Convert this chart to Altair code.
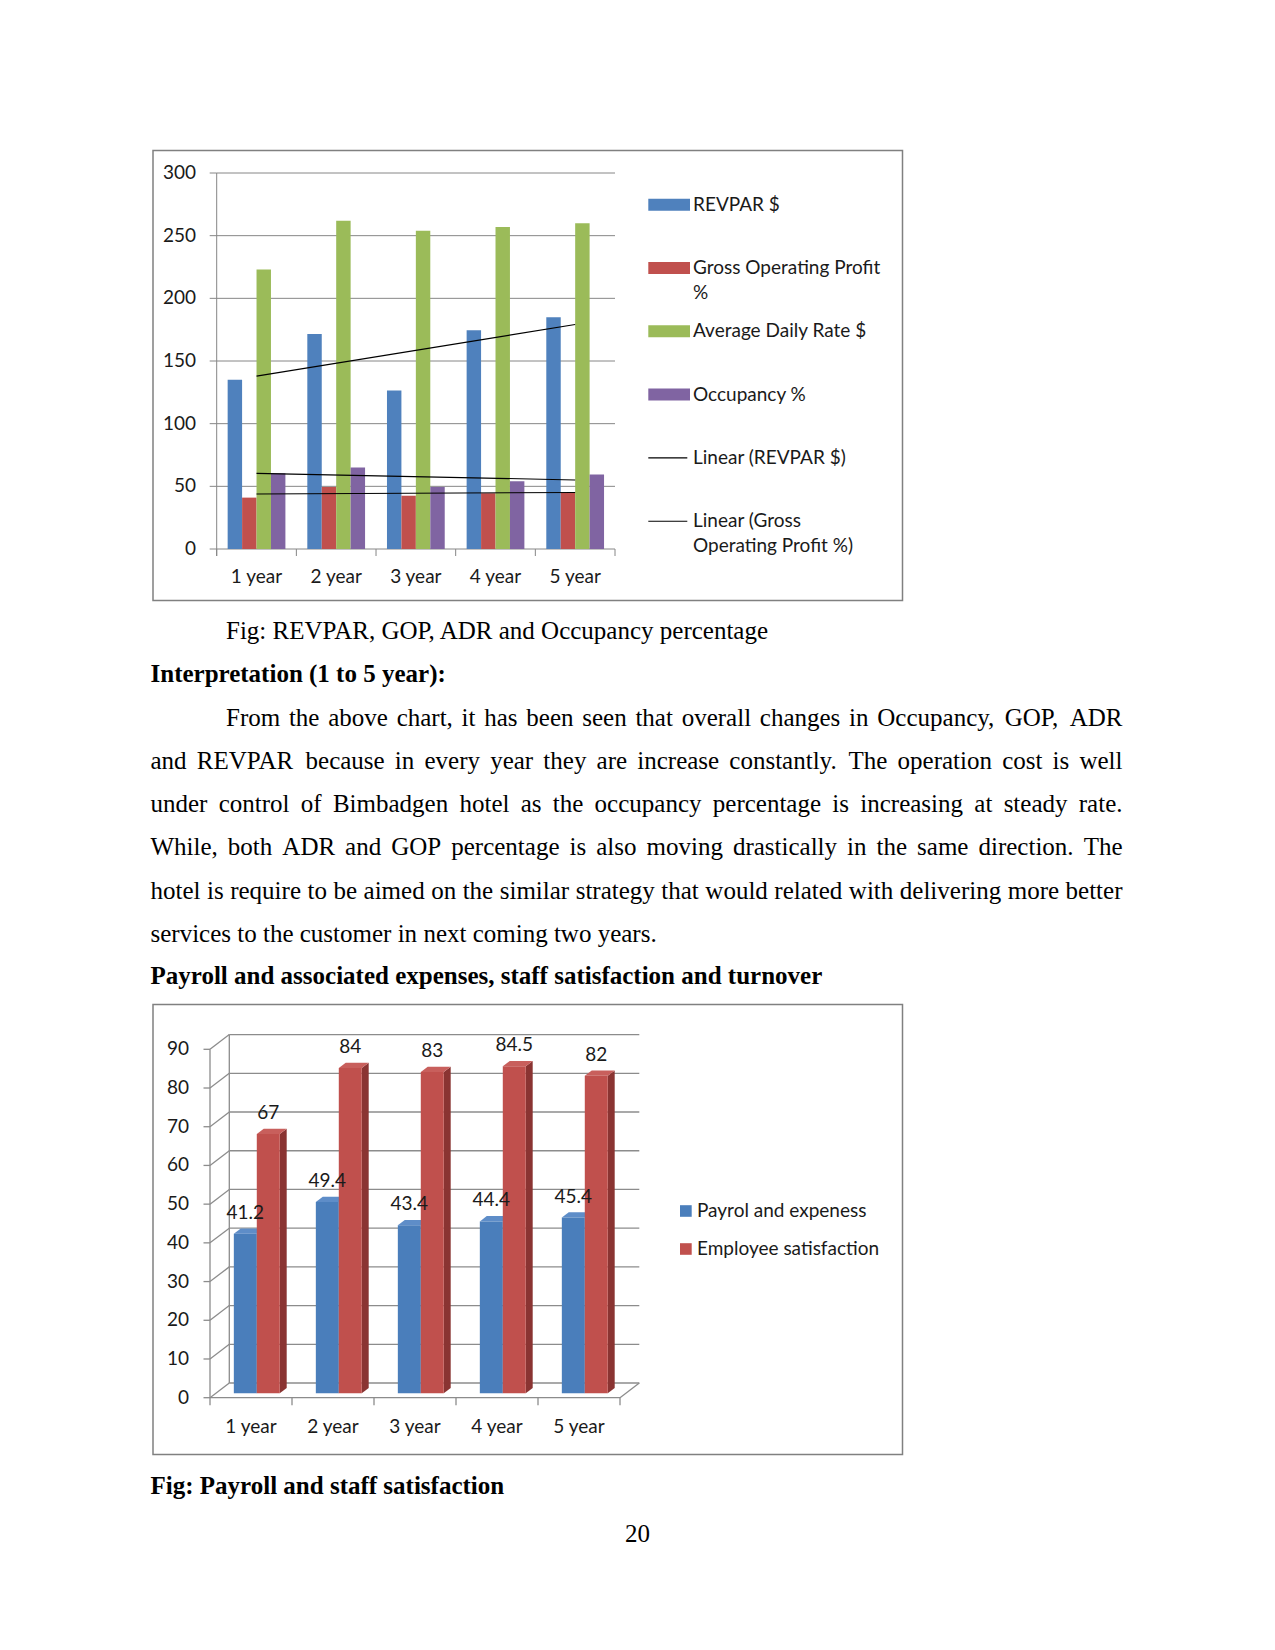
import altair as alt
import pandas as pd

# ---------------- data ----------------
YEARS = ["1 year", "2 year", "3 year", "4 year", "5 year"]
SERIES1 = ["REVPAR $", "Gross Operating Profit %", "Average Daily Rate $", "Occupancy %"]
REVPAR = [135, 171.5, 126.5, 174.5, 185]
GOP = [41, 49.5, 42.5, 44.5, 45]
ADR = [223, 262, 254, 257, 260]
OCC = [60.5, 65, 49.5, 54, 59.5]
C1_COLORS = ["#4F81BD", "#C0504D", "#9BBB59", "#8064A2"]
C1_TICKS = [0, 50, 100, 150, 200, 250, 300]
TREND_SERIES = ["REVPAR $", "Gross Operating Profit %", "Occupancy %"]
LEGEND1_LINES = [["REVPAR $"], ["Gross Operating Profit", "%"], ["Average Daily Rate $"],
                 ["Occupancy %"], ["Linear (REVPAR $)"], ["Linear (Gross", "Operating Profit %)"]]
LEGEND1_KIND = ["bar", "bar", "bar", "bar", "line", "line"]
LEGEND1_COLOR = ["#4F81BD", "#C0504D", "#9BBB59", "#8064A2", "#000000", "#000000"]

SERIES2 = ["Payrol and expeness", "Employee satisfaction"]
PAYROLL = [41.2, 49.4, 43.4, 44.4, 45.4]
SATISF = [67, 84, 83, 84.5, 82]
C2_TICKS = [0, 10, 20, 30, 40, 50, 60, 70, 80, 90]
C2_FRONT = ["#4A7EBB", "#C0504D"]
C2_SIDE = ["#375D8B", "#8A3432"]
C2_TOP = ["#5E8DC8", "#C85F5C"]

CAPTION1 = "Fig: REVPAR, GOP, ADR and Occupancy percentage"
HEAD1 = "Interpretation (1 to 5 year):"
PARA = [
    "From the above chart, it has been seen that overall changes in Occupancy, GOP, ADR",
    "and REVPAR because in every year they are increase constantly. The operation cost is well",
    "under control of Bimbadgen hotel as the occupancy percentage is increasing at steady rate.",
    "While, both ADR and GOP percentage is also moving drastically in the same direction. The",
    "hotel is require to be aimed on the similar strategy that would related with delivering more better",
    "services to the customer in next coming two years.",
]
HEAD2 = "Payroll and associated expenses, staff satisfaction and turnover"
CAPTION2 = "Fig: Payroll and staff satisfaction"
PAGE_NO = "20"

# ---------------- style / layout ----------------
SANS = "Lato"
SERIF = "Liberation Serif"
FS_CHART = 19
FS_TEXT = 25
GRID = "#868686"
FRAME = "#808080"
TXT = "#1a1a1a"

# chart 1 geometry
C1_XR = [216.7, 615.0]
C1_YR = [549.0, 173.0]
step1 = (C1_XR[1] - C1_XR[0]) / len(YEARS)
C1_CENTERS = [C1_XR[0] + step1 * 0.5, C1_XR[0] + step1 * 4.5]

xs1 = alt.Scale(domain=YEARS, range=C1_XR, paddingInner=0.275, paddingOuter=0.1375)
ys1 = alt.Scale(domain=[0, 300], range=C1_YR, nice=False, zero=False)
xq1 = alt.Scale(domain=[0, len(YEARS)], range=C1_XR, nice=False, zero=False)
xt1 = alt.Scale(domain=[1, len(YEARS)], range=C1_CENTERS, nice=False, zero=False)

# chart 2 geometry (pseudo-3D)
C2_XR = [210.0, 620.0]
C2_YR = [1397.7, 1049.3]
xs2 = alt.Scale(domain=[0, len(YEARS)], range=C2_XR, nice=False, zero=False)
ys2 = alt.Scale(domain=[0, 90], range=C2_YR, nice=False, zero=False)
DXC = 19.3 / ((C2_XR[1] - C2_XR[0]) / len(YEARS))   # depth shift in category units
DYV = 14.7 / ((C2_YR[0] - C2_YR[1]) / 90)           # depth shift in value units
T0, T1 = 0.30, 0.66
BW = 0.28
GSTART = 0.5 - BW


def NX(f, s, **kw):
    return alt.X(f, scale=s, axis=None, **kw)


def NY(f, s, **kw):
    return alt.Y(f, scale=s, axis=None, **kw)


layers = []

# ================= CHART 1 =================
layers.append(alt.Chart(pd.DataFrame({"a": [0]})).mark_rect(
    fillOpacity=0, stroke=FRAME, strokeWidth=1.5).encode(
    x=alt.value(153), x2=alt.value(902.5), y=alt.value(150.5), y2=alt.value(600.5)))

tick1 = pd.DataFrame({"v": C1_TICKS, "lab": [str(t) for t in C1_TICKS]})
layers.append(alt.Chart(tick1[tick1.v > 0]).mark_rule(color=GRID, strokeWidth=1).encode(
    y=NY("v:Q", ys1), x=alt.value(C1_XR[0]), x2=alt.value(C1_XR[1])))
layers.append(alt.Chart(tick1).mark_rule(color=GRID, strokeWidth=1).encode(
    y=NY("v:Q", ys1), x=alt.value(C1_XR[0] - 7), x2=alt.value(C1_XR[0])))
layers.append(alt.Chart(pd.DataFrame({"a": [0]})).mark_rule(color=GRID, strokeWidth=1).encode(
    x=alt.value(C1_XR[0]), y=alt.value(C1_YR[1]), y2=alt.value(C1_YR[0] + 7)))
layers.append(alt.Chart(pd.DataFrame({"a": [0]})).mark_rule(color=GRID, strokeWidth=1).encode(
    y=alt.value(C1_YR[0]), x=alt.value(C1_XR[0]), x2=alt.value(C1_XR[1])))
layers.append(alt.Chart(pd.DataFrame({"i": list(range(len(YEARS) + 1))})).mark_rule(
    color=GRID, strokeWidth=1).encode(
    x=NX("i:Q", xq1), y=alt.value(C1_YR[0]), y2=alt.value(C1_YR[0] + 7)))

rows = []
for s, vals in zip(SERIES1, [REVPAR, GOP, ADR, OCC]):
    for i, (yr, v) in enumerate(zip(YEARS, vals)):
        rows.append({"year": yr, "idx": i + 1, "series": s, "value": v})
df1 = pd.DataFrame(rows)

layers.append(alt.Chart(df1).mark_bar().encode(
    x=NX("year:N", xs1),
    xOffset=alt.XOffset("series:N", scale=alt.Scale(domain=SERIES1)),
    y=NY("value:Q", ys1),
    color=alt.Color("series:N", scale=alt.Scale(domain=SERIES1, range=C1_COLORS), legend=None)))

layers.append(alt.Chart(df1).transform_filter(
    alt.FieldOneOfPredicate(field="series", oneOf=TREND_SERIES)).transform_regression(
    on="idx", regression="value", groupby=["series"]).mark_line(
    color="#000000", strokeWidth=1.1).encode(
    x=NX("idx:Q", xt1), y=NY("value:Q", ys1), detail="series:N"))

layers.append(alt.Chart(tick1).mark_text(
    align="right", baseline="middle", font=SANS, fontSize=FS_CHART, color=TXT).encode(
    y=NY("v:Q", ys1), x=alt.value(196), text="lab:N"))
layers.append(alt.Chart(pd.DataFrame({"year": YEARS})).mark_text(
    align="center", baseline="middle", font=SANS, fontSize=FS_CHART, color=TXT).encode(
    x=NX("year:N", xs1), y=alt.value(577), text="year:N"))

# legend 1
L1_Y0, L1_STEP, L1_LH = 204.7, 63.3, 25
leg_sw, leg_ln, leg_tx = [], [], []
for k, (lines, kind, col) in enumerate(zip(LEGEND1_LINES, LEGEND1_KIND, LEGEND1_COLOR)):
    yc = L1_Y0 + k * L1_STEP
    if kind == "bar":
        leg_sw.append({"y1": yc - 6, "y2": yc + 6, "c": col})
    else:
        leg_ln.append({"y": yc, "c": col})
    for j, t in enumerate(lines):
        leg_tx.append({"y": yc + j * L1_LH, "t": t})
layers.append(alt.Chart(pd.DataFrame(leg_sw)).mark_rect().encode(
    x=alt.value(648.3), x2=alt.value(690), y=NY("y1:Q", None), y2="y2:Q",
    color=alt.Color("c:N", scale=None, legend=None)))
layers.append(alt.Chart(pd.DataFrame(leg_ln)).mark_rule(strokeWidth=1.1).encode(
    x=alt.value(648.3), x2=alt.value(687.3), y=NY("y:Q", None),
    color=alt.Color("c:N", scale=None, legend=None)))
layers.append(alt.Chart(pd.DataFrame(leg_tx)).mark_text(
    align="left", baseline="middle", font=SANS, fontSize=FS_CHART, color=TXT).encode(
    x=alt.value(693), y=NY("y:Q", None), text="t:N"))

# ================= CHART 2 =================
layers.append(alt.Chart(pd.DataFrame({"a": [0]})).mark_rect(
    fillOpacity=0, stroke=FRAME, strokeWidth=1.5).encode(
    x=alt.value(153), x2=alt.value(902.5), y=alt.value(1004.5), y2=alt.value(1454.5)))

segs = []
for v in C2_TICKS:
    segs.append({"x": DXC, "y": v + DYV, "x2": len(YEARS) + DXC, "y2": v + DYV})   # back wall grid
    segs.append({"x": 0, "y": v, "x2": DXC, "y2": v + DYV})                        # side wall diagonal
segs.append({"x": 0, "y": 0, "x2": 0, "y2": 90})                                     # front axis
segs.append({"x": DXC, "y": DYV, "x2": DXC, "y2": 90 + DYV})                         # back left edge
segs.append({"x": 0, "y": 0, "x2": len(YEARS), "y2": 0})                             # floor front
segs.append({"x": len(YEARS), "y": 0, "x2": len(YEARS) + DXC, "y2": DYV})            # floor right
layers.append(alt.Chart(pd.DataFrame(segs)).mark_rule(color="#8c8c8c", strokeWidth=1.3).encode(
    x=NX("x:Q", xs2), x2="x2:Q", y=NY("y:Q", ys2), y2="y2:Q"))

tick2 = pd.DataFrame({"v": C2_TICKS, "lab": [str(t) for t in C2_TICKS]})
layers.append(alt.Chart(tick2).mark_rule(color="#8c8c8c", strokeWidth=1.3).encode(
    y=NY("v:Q", ys2), x=alt.value(C2_XR[0] - 6.5), x2=alt.value(C2_XR[0])))
layers.append(alt.Chart(pd.DataFrame({"i": list(range(len(YEARS) + 1))})).mark_rule(
    color="#8c8c8c", strokeWidth=1.3).encode(
    x=NX("i:Q", xs2), y=alt.value(C2_YR[0]), y2=alt.value(C2_YR[0] + 7.5)))

front, side, top, labs = [], [], [], []
for s, vals in enumerate([PAYROLL, SATISF]):
    for i, v in enumerate(vals):
        bid = f"{s}-{i}"
        xl = i + GSTART + s * BW
        xr = xl + BW
        front.append({"x": xl + T0 * DXC, "x2": xr + T0 * DXC, "y": T0 * DYV, "y2": v + T0 * DYV,
                      "c": C2_FRONT[s], "o": i * 2 + s})
        side.append({"b": bid, "x": xr + T0 * DXC, "yt": v + T0 * DYV, "yb": T0 * DYV, "c": C2_SIDE[s]})
        side.append({"b": bid, "x": xr + T1 * DXC, "yt": v + T1 * DYV, "yb": T1 * DYV, "c": C2_SIDE[s]})
        top.append({"b": bid, "x": xl + T0 * DXC, "yt": v + T0 * DYV, "yb": v + T0 * DYV, "c": C2_TOP[s]})
        top.append({"b": bid, "x": xl + T1 * DXC, "yt": v + T1 * DYV, "yb": v + T0 * DYV, "c": C2_TOP[s]})
        top.append({"b": bid, "x": xr + T0 * DXC, "yt": v + T1 * DYV, "yb": v + T0 * DYV, "c": C2_TOP[s]})
        top.append({"b": bid, "x": xr + T1 * DXC, "yt": v + T1 * DYV, "yb": v + T1 * DYV, "c": C2_TOP[s]})
        labs.append({"x": xl + BW / 2 + T0 * DXC, "y": v + T0 * DYV, "t": f"{v:g}"})

layers.append(alt.Chart(pd.DataFrame(side)).mark_area(interpolate="linear").encode(
    x=NX("x:Q", xs2), y=NY("yt:Q", ys2), y2="yb:Q", detail="b:N",
    color=alt.Color("c:N", scale=None, legend=None)))
layers.append(alt.Chart(pd.DataFrame(top)).mark_area(interpolate="linear").encode(
    x=NX("x:Q", xs2), y=NY("yt:Q", ys2), y2="yb:Q", detail="b:N",
    color=alt.Color("c:N", scale=None, legend=None)))
layers.append(alt.Chart(pd.DataFrame(front)).mark_rect().encode(
    x=NX("x:Q", xs2), x2="x2:Q", y=NY("y:Q", ys2), y2="y2:Q",
    color=alt.Color("c:N", scale=None, legend=None)))
layers.append(alt.Chart(pd.DataFrame(labs)).mark_text(
    align="center", baseline="middle", dy=-21, font=SANS, fontSize=FS_CHART, color=TXT).encode(
    x=NX("x:Q", xs2), y=NY("y:Q", ys2), text="t:N"))

layers.append(alt.Chart(tick2).mark_text(
    align="right", baseline="middle", font=SANS, fontSize=FS_CHART, color=TXT).encode(
    y=NY("v:Q", ys2), x=alt.value(189), text="lab:N"))
layers.append(alt.Chart(pd.DataFrame({"c": [i + 0.5 for i in range(len(YEARS))], "t": YEARS})).mark_text(
    align="center", baseline="middle", font=SANS, fontSize=FS_CHART, color=TXT).encode(
    x=NX("c:Q", xs2), y=alt.value(1427.3), text="t:N"))

L2_Y0, L2_STEP = 1211, 38
leg2 = pd.DataFrame({"t": SERIES2,
                     "y1": [L2_Y0 + k * L2_STEP - 5.8 for k in range(2)],
                     "y2": [L2_Y0 + k * L2_STEP + 5.8 for k in range(2)],
                     "yc": [L2_Y0 + k * L2_STEP for k in range(2)],
                     "c": C2_FRONT})
layers.append(alt.Chart(leg2).mark_rect().encode(
    x=alt.value(680), x2=alt.value(691.7), y=NY("y1:Q", None), y2="y2:Q",
    color=alt.Color("c:N", scale=None, legend=None)))
layers.append(alt.Chart(leg2).mark_text(
    align="left", baseline="middle", font=SANS, fontSize=FS_CHART, color=TXT).encode(
    x=alt.value(697), y=NY("yc:Q", None), text="t:N"))

# ================= PAGE TEXT =================
TW = {' ': .25, ',': .25, '.': .25, '(': .333, ')': .333, ':': .278, '$': .5, '%': .833,
      'A': .722, 'B': .667, 'C': .667, 'D': .722, 'E': .611, 'F': .556, 'G': .722, 'H': .722,
      'I': .333, 'J': .389, 'K': .722, 'L': .611, 'M': .889, 'N': .722, 'O': .722, 'P': .556,
      'Q': .722, 'R': .667, 'S': .556, 'T': .611, 'U': .722, 'V': .722, 'W': .944, 'X': .722,
      'Y': .722, 'Z': .611,
      'a': .444, 'b': .5, 'c': .444, 'd': .5, 'e': .444, 'f': .333, 'g': .5, 'h': .5, 'i': .278,
      'j': .278, 'k': .5, 'l': .278, 'm': .778, 'n': .5, 'o': .5, 'p': .5, 'q': .5, 'r': .333,
      's': .389, 't': .278, 'u': .5, 'v': .5, 'w': .722, 'x': .5, 'y': .5, 'z': .444}


def tw(s):
    return sum(TW.get(ch, 0.5) for ch in s) * FS_TEXT


LEFT, RIGHT, INDENT = 150.5, 1122.5, 226.0
P_Y0, P_STEP = 725.7, 43.2
words = []
for li, line in enumerate(PARA):
    y = P_Y0 + li * P_STEP
    x0 = INDENT if li == 0 else LEFT
    ws = line.split(" ")
    if li < len(PARA) - 1:
        gap = (RIGHT - x0 - sum(tw(w) for w in ws)) / (len(ws) - 1)
    else:
        gap = tw(" ")
    x = x0
    for w in ws:
        words.append({"px": x, "py": y, "t": w})
        x += tw(w) + gap
words.append({"px": INDENT, "py": 639.3, "t": CAPTION1})

bold = pd.DataFrame({"px": [LEFT, LEFT, LEFT], "py": [681.7, 984.3, 1493.5],
                     "t": [HEAD1, HEAD2, CAPTION2]})

layers.append(alt.Chart(pd.DataFrame(words)).mark_text(
    align="left", baseline="alphabetic", font=SERIF, fontSize=FS_TEXT, color="#000000").encode(
    x=NX("px:Q", None), y=NY("py:Q", None), text="t:N"))
layers.append(alt.Chart(bold).mark_text(
    align="left", baseline="alphabetic", font=SERIF, fontSize=FS_TEXT, fontWeight="bold",
    color="#000000").encode(
    x=NX("px:Q", None), y=NY("py:Q", None), text="t:N"))
layers.append(alt.Chart(pd.DataFrame({"px": [637.5], "py": [1541.5], "t": [PAGE_NO]})).mark_text(
    align="center", baseline="alphabetic", font=SERIF, fontSize=FS_TEXT, color="#000000").encode(
    x=NX("px:Q", None), y=NY("py:Q", None), text="t:N"))

chart = alt.layer(*layers).resolve_scale(
    x="independent", y="independent", color="independent"
).properties(
    width=1275, height=1650, padding=0,
    autosize=alt.AutoSizeParams(type="none"), background="white"
).configure_view(stroke=None)

chart.save("out.html", embed_options={"renderer": "svg", "actions": False})
